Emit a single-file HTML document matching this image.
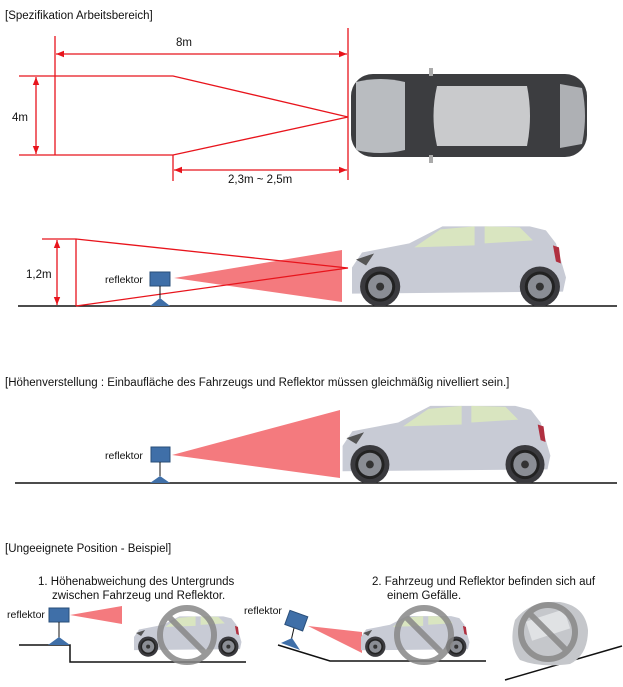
<!DOCTYPE html>
<html><head><meta charset="utf-8"><style>
html,body{margin:0;padding:0;background:#fff;}
svg{display:block;font-family:"Liberation Sans",sans-serif;}
</style></head><body>
<svg width="623" height="687" viewBox="0 0 623 687" xmlns="http://www.w3.org/2000/svg">
<defs>
<marker id="ar" viewBox="0 0 10 10" refX="10" refY="5" markerWidth="8" markerHeight="8" orient="auto-start-reverse" markerUnits="userSpaceOnUse"><path d="M0,1 L10,5 L0,9 Z" fill="#e8141c"/></marker>
<symbol id="car" viewBox="0 0 216 82">
<path d="M2,66 L2,44 L12,29 L59,20 L92,3 L179,3 L195,7 L205,20 L215,54 L212,68 L2,70 Z" fill="#c8cbd5"/>
<path d="M64,24 L90,6 L124,3 L124,22 Z" fill="#d9e5c0"/>
<path d="M134,3 L169,4 L182,17 L134,20 Z" fill="#d9e5c0"/>
<path d="M202,22 L208,24 L210,40 L205,38 Z" fill="#b03040"/>
<path d="M6,36 L24,30 L16,42 Z" fill="#555"/>
<circle cx="30" cy="63" r="20" fill="#3a3a3e"/>
<circle cx="189" cy="63" r="20" fill="#3a3a3e"/>
<circle cx="30" cy="63" r="15" fill="#222"/><circle cx="30" cy="63" r="12" fill="#8a8d94"/><circle cx="30" cy="63" r="4" fill="#333"/>
<circle cx="189" cy="63" r="15" fill="#222"/><circle cx="189" cy="63" r="12" fill="#8a8d94"/><circle cx="189" cy="63" r="4" fill="#333"/>
</symbol>
</defs>
<g font-size="11.5" fill="#111">
<text x="5" y="19">[Spezifikation Arbeitsbereich]</text>
<text x="176" y="46">8m</text>
<text x="12" y="121">4m</text>
<text x="228" y="183">2,3m ~ 2,5m</text>
<text x="26" y="278">1,2m</text>
<text x="105" y="283" font-size="10.5">reflektor</text>
<text x="5" y="386">[Höhenverstellung : Einbaufläche des Fahrzeugs und Reflektor müssen gleichmäßig nivelliert sein.]</text>
<text x="105" y="459" font-size="10.5">reflektor</text>
<text x="5" y="552">[Ungeeignete Position - Beispiel]</text>
<text x="38" y="585">1. Höhenabweichung des Untergrunds</text>
<text x="52" y="599">zwischen Fahrzeug und Reflektor.</text>
<text x="372" y="585">2. Fahrzeug und Reflektor befinden sich auf</text>
<text x="387" y="599">einem Gefälle.</text>
<text x="7" y="618" font-size="10.5">reflektor</text>
<text x="244" y="614" font-size="10.5">reflektor</text>
</g>
<!-- top view -->
<g stroke="#e8141c" stroke-width="1.3" fill="none">
<line x1="55" y1="36" x2="55" y2="155"/>
<line x1="348" y1="28" x2="348" y2="180"/>
<line x1="56" y1="54" x2="347" y2="54" marker-start="url(#ar)" marker-end="url(#ar)"/>
<polyline points="19,76 173,76 348,117 173,155 19,155"/>
<line x1="36" y1="77" x2="36" y2="154" marker-start="url(#ar)" marker-end="url(#ar)"/>
<line x1="173" y1="155" x2="173" y2="181"/>
<line x1="174" y1="170" x2="347" y2="170" marker-start="url(#ar)" marker-end="url(#ar)"/>
</g>
<g>
<rect x="351" y="74" width="236" height="83" rx="22" fill="#3c3d40"/>
<path d="M356,82 Q380,76 405,82 L405,150 Q380,156 356,150 Z" fill="#b9bcc0"/>
<path d="M437,86 L527,86 Q533,116 527,146 L437,146 Q430,116 437,86 Z" fill="#c9cacc"/>
<path d="M560,84 L582,88 Q588,116 582,144 L560,148 Z" fill="#aeb0b4"/>
<rect x="429" y="68" width="4" height="8" fill="#aaa"/><rect x="429" y="155" width="4" height="8" fill="#aaa"/>
</g>
<!-- second -->
<line x1="18" y1="306" x2="617" y2="306" stroke="#111" stroke-width="1.5"/>
<polygon points="174,278 342,250 342,302" fill="#f47a7e"/>
<g stroke="#e8141c" stroke-width="1.3" fill="none">
<polyline points="42,239 76,239 348,268 76,306"/>
<line x1="76" y1="239" x2="76" y2="306"/>
<line x1="57" y1="240" x2="57" y2="305" marker-start="url(#ar)" marker-end="url(#ar)"/>
</g>
<rect x="150" y="272" width="20" height="14" fill="#3f6fa8" stroke="#2a4f7a"/>
<line x1="160" y1="286" x2="160" y2="299" stroke="#111"/>
<polygon points="150,306 160,298 170,306" fill="#3f6fa8"/>
<use href="#car" x="350" y="223" width="217" height="83"/>
<!-- third -->
<line x1="15" y1="483" x2="617" y2="483" stroke="#111" stroke-width="1.5"/>
<polygon points="172,455 340,410 340,478" fill="#f47a7e"/>
<rect x="151" y="447" width="19" height="15" fill="#3f6fa8" stroke="#2a4f7a"/>
<line x1="160" y1="462" x2="160" y2="476" stroke="#111"/>
<polygon points="150,483 160,476 170,483" fill="#3f6fa8"/>
<use href="#car" x="338" y="403" width="216" height="80"/>
<!-- fourth -->
<polyline points="19,645 70,645 70,662 246,662" stroke="#111" stroke-width="1.5" fill="none"/>
<polygon points="70,615 122,606 122,624" fill="#f47a7e"/>
<rect x="49" y="608" width="20" height="14" fill="#3f6fa8" stroke="#2a4f7a"/>
<line x1="59" y1="622" x2="59" y2="638" stroke="#111"/>
<polygon points="48,645 59,637 70,645" fill="#3f6fa8"/>
<use href="#car" x="133" y="609" width="109" height="53"/>
<g stroke="#888" stroke-width="6" fill="none" opacity="0.85"><circle cx="187" cy="635" r="27"/><line x1="168" y1="616" x2="206" y2="654"/></g>
<polyline points="278,645 330,661 486,661" stroke="#111" stroke-width="1.5" fill="none"/>
<polygon points="308,626 362,632 362,653" fill="#f47a7e"/>
<rect x="287" y="613" width="19" height="15" fill="#3f6fa8" stroke="#2a4f7a" transform="rotate(20 296 620)"/>
<line x1="294" y1="628" x2="291" y2="641" stroke="#111"/>
<polygon points="281,643 292,638 300,650" fill="#3f6fa8"/>
<use href="#car" x="360" y="610" width="110" height="51"/>
<g stroke="#888" stroke-width="6" fill="none" opacity="0.85"><circle cx="424" cy="635" r="27"/><line x1="405" y1="616" x2="443" y2="654"/></g>
<line x1="505" y1="680" x2="622" y2="646" stroke="#111" stroke-width="1.5"/>
<path d="M515,620 Q530,600 560,602 Q585,606 588,630 Q588,655 570,664 Q540,668 520,660 Q508,645 515,620 Z" fill="#c5c7cb"/>
<rect x="528" y="615" width="40" height="20" fill="#e0e2e4" transform="rotate(-18 548 625)"/>
<g stroke="#888" stroke-width="6" fill="none" opacity="0.85"><circle cx="548" cy="632" r="27"/><line x1="529" y1="613" x2="567" y2="651"/></g>
</svg>
</body></html>
